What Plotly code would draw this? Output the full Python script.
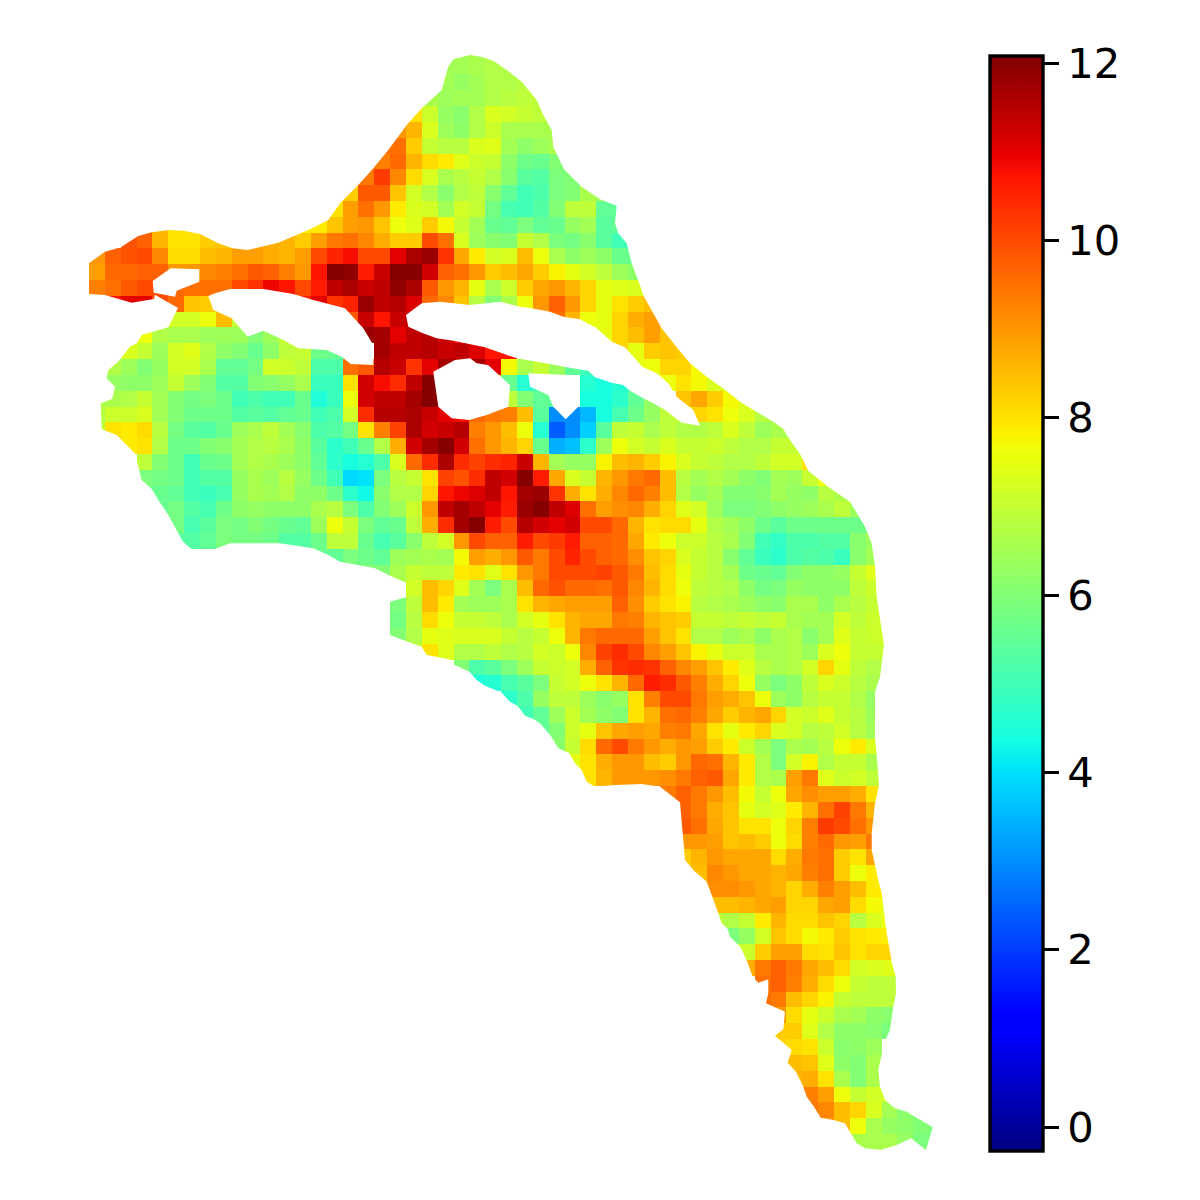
import numpy as np
import plotly.graph_objects as go

_ = None
# ---------- cell values, one list per grid row (first list item sits in column row_starts[i]) ----------
row_starts = [22,22,21,20,20,19,18,17,16,15,14,3,2,0,0,0,1,5,3,2,1,0,0,0,0,1,3,3,3,4,4,5,14,17,19,19,19,19,20,23,24,26,27,28,29,30,30,36,37,37,37,37,37,38,39,39,40,40,41,42,42,43,43,43,43,44,44,45,46,48]
row_values = [
[6.5,6.5,6.6,6.7,6.7],
[6.5,6.5,6.6,6.7,6.7,6.8],
[6.6,6.5,6.3,6.5,6.7,6.7,6.8,6.9],
[7.5,6.6,6.4,6.5,6.5,6.7,6.8,6.9,6.9,6.8,6.8],
[8.0,7.1,6.3,6.1,6.7,7.3,7.2,7.0,6.9,6.8,6.8],
[9.0,8.6,7.3,6.4,6.2,6.7,7.1,6.6,6.6,6.6,6.6,6.7],
[9.5,9.5,8.3,7.0,6.8,6.8,7.3,7.4,6.5,6.2,6.4,6.6,6.8],
[9.3,9.3,9.6,8.6,8.1,7.9,7.4,7.1,7.0,6.2,5.7,5.6,6.0,6.5],
[9.2,9.4,10.2,9.2,8.1,7.3,6.6,6.8,7.0,6.7,6.1,5.4,5.3,5.9,6.0,6.7],
[8.0,8.3,9.8,9.8,8.4,7.2,6.7,6.1,6.7,6.9,6.1,5.5,5.0,5.2,5.9,6.0,6.6,6.5],
[8.0,8.0,8.9,9.5,9.0,7.9,7.3,7.2,6.5,7.2,7.0,5.8,5.1,5.0,5.3,6.0,6.9,6.9,5.5,5.5],
[9.7,8.6,8.0,8.0,8.3,_,_,_,_,_,7.9,7.9,8.4,8.9,9.0,8.4,7.6,7.4,8.3,7.7,7.0,6.5,5.6,5.5,5.9,5.5,5.6,6.3,6.5,5.4,5.5],
[9.9,9.7,8.6,8.0,8.0,8.3,8.4,8.9,8.9,8.7,8.6,8.3,8.9,9.4,9.5,9.2,8.7,8.3,8.3,10.0,9.5,7.3,6.4,6.1,6.0,7.0,6.7,5.9,5.8,6.1,5.4,5.0,5.3],
[9.0,9.7,9.9,10.0,9.2,8.1,8.1,8.5,8.6,8.9,8.9,8.7,8.6,8.9,10.0,10.5,10.8,10.0,10.0,11.0,11.6,11.8,10.3,8.8,7.9,7.2,7.3,8.5,7.6,6.6,6.2,6.4,6.2,5.6,5.6],
[8.9,9.6,9.6,9.7,9.7,9.0,9.0,9.2,9.3,9.5,9.8,9.7,9.3,9.0,10.7,12.0,11.9,10.6,11.3,12.0,12.0,11.2,9.7,9.5,9.0,8.3,8.5,8.8,8.3,7.8,7.5,7.2,6.9,6.4,6.2,6.4],
[9.3,9.5,9.8,10.0,10.0,9.6,9.5,9.5,9.5,10.0,10.3,10.9,10.7,10.0,10.6,11.4,11.6,11.3,11.4,11.9,11.6,9.8,9.0,8.6,7.5,6.6,7.1,8.3,8.8,9.0,8.6,8.2,7.5,7.4,7.3,7.3],
[10.7,11.0,11.0,10.0,9.6,8.4,8.3,8.4,_,_,_,10.7,10.5,11.0,10.3,10.5,11.8,11.4,11.5,11.1,9.6,9.2,8.4,6.8,6.0,6.6,7.6,9.0,9.7,9.0,8.2,7.5,8.0,8.3,8.5],
[7.2,7.2,7.6,8.5,7.0,6.4,_,_,_,_,9.8,9.8,11.3,10.7,11.3,11.3,_,_,_,_,_,_,_,_,9.5,8.6,7.6,7.5,8.2,8.7,8.9,8.9],
[7.6,6.7,6.6,6.6,6.4,6.4,6.4,6.0,6.4,7.0,_,_,_,_,11.8,11.7,11.0,11.4,11.5,11.3,10.8,_,_,_,_,_,_,_,_,7.5,8.2,8.5,8.9,8.4,8.4],
[7.3,7.0,6.4,7.2,7.4,6.7,6.2,6.0,5.6,6.2,6.9,7.0,5.7,5.6,5.1,_,11.7,11.4,11.4,11.5,11.3,11.4,11.1,10.7,10.7,_,_,_,_,_,_,8.2,7.5,8.3,8.4,8.3,8.3],
[6.7,6.4,6.0,6.3,7.2,7.2,6.6,5.5,5.5,5.8,7.2,7.1,6.9,5.2,5.2,9.5,9.8,11.5,11.3,10.3,11.0,11.7,11.5,11.7,11.0,7.7,6.6,7.0,6.4,5.5,5.0,4.5,_,7.5,7.6,8.2,8.2,7.7,7.5],
[6.5,6.3,6.2,6.2,6.4,7.0,6.4,6.0,5.3,5.3,6.0,6.1,6.3,6.6,4.9,4.9,8.0,11.2,10.8,10.4,11.4,12.0,12.0,_,_,8.1,5.6,4.6,5.0,_,_,4.6,4.4,4.6,5.0,_,7.6,8.0,7.7,7.3,7.3],
[6.7,6.6,6.7,7.0,6.5,6.0,5.8,5.9,5.7,5.0,5.2,5.0,5.0,5.6,4.5,4.9,7.6,11.2,11.4,11.4,11.7,12.0,11.9,_,_,_,6.9,6.0,5.5,5.4,_,4.4,4.4,4.7,5.5,6.3,_,8.4,8.8,8.3,7.7,7.3,6.8],
[6.7,7.1,7.1,7.3,6.5,6.0,5.7,5.7,5.7,5.3,5.4,5.3,5.5,5.6,5.0,5.2,7.2,10.4,11.5,11.5,11.6,11.3,11.0,10.8,9.6,9.4,9.3,8.5,5.4,3.0,3.0,3.5,4.4,5.1,5.7,6.3,6.9,7.0,8.2,8.0,7.6,7.3,6.8,6.6],
[6.9,8.0,7.9,8.1,6.8,5.8,5.4,5.3,5.6,6.4,6.6,6.9,6.5,6.1,5.2,5.3,5.8,8.0,9.3,10.1,11.6,11.2,11.3,11.5,9.3,9.0,8.5,7.6,4.6,2.4,3.0,3.8,5.4,6.9,7.0,6.6,6.9,6.7,6.7,6.9,7.3,6.9,6.4,6.6,6.6,6.6],
[7.9,7.9,8.0,6.7,5.7,5.7,6.0,6.1,6.5,6.7,6.8,6.6,6.2,5.4,4.7,5.0,5.6,6.7,8.7,11.2,11.7,12.0,11.2,9.5,9.0,8.6,8.2,5.6,3.4,3.6,4.7,6.4,7.6,7.2,7.0,7.3,7.0,7.0,7.1,6.9,6.7,6.7,7.0,7.0,7.2],
[6.9,6.0,5.7,5.0,5.6,5.7,6.5,6.7,6.6,6.4,6.2,5.5,4.7,4.4,4.6,5.2,7.3,9.6,10.4,11.6,10.4,10.1,10.4,10.5,11.3,8.6,6.5,6.3,6.3,7.8,8.5,8.6,8.3,7.8,7.3,7.0,6.9,6.7,6.7,6.9,7.2,7.2,8.0,8.0],
[5.9,5.8,5.7,5.0,5.3,5.3,6.3,6.6,6.4,6.8,6.3,5.7,5.0,3.9,4.0,5.9,6.8,7.0,8.0,10.1,9.9,10.4,11.4,11.2,12.0,10.6,8.8,7.3,7.0,8.6,9.0,9.4,9.6,8.5,6.8,6.5,6.7,6.5,6.2,6.0,6.5,6.4,7.0,7.6,7.6],
[5.8,5.6,5.5,5.0,4.9,5.1,6.3,6.6,6.5,6.7,6.2,6.2,5.7,4.7,4.3,6.1,6.7,6.7,8.2,10.7,10.9,11.1,11.4,10.7,11.7,11.8,10.3,8.7,8.0,8.7,9.2,9.6,9.3,8.5,6.7,6.3,6.5,6.0,6.0,6.1,6.5,6.3,6.2,6.8,6.6,6.6],
[5.6,5.8,5.3,5.1,5.7,6.2,6.3,6.2,6.2,6.2,6.6,6.8,5.9,5.2,6.0,6.4,7.1,9.0,11.4,11.7,11.4,11.0,10.6,11.8,12.0,11.4,11.1,9.5,8.9,9.1,9.2,8.7,8.2,7.4,7.2,6.4,5.9,5.9,6.0,6.2,6.3,6.4,6.6,6.9,6.4,6.4],
[5.7,5.8,5.1,5.4,5.9,5.8,6.0,5.8,5.6,5.5,6.4,7.6,7.0,5.9,5.5,5.6,6.9,8.7,10.4,11.7,12.0,10.6,10.0,11.5,11.2,11.0,11.2,10.0,10.0,9.6,8.6,8.0,8.1,8.1,7.5,6.7,6.5,6.2,5.7,5.4,5.7,5.7,5.7,5.7,5.7,6.0],
[5.4,5.3,5.5,5.9,5.8,5.8,5.7,5.3,5.3,5.7,6.9,6.9,5.6,5.1,5.4,6.1,6.9,7.2,9.0,10.0,9.7,9.7,10.6,10.0,10.2,10.6,9.7,9.7,9.6,8.8,7.9,7.6,7.1,7.1,6.8,6.6,6.0,5.0,4.8,5.2,5.2,5.3,5.3,6.1,6.4],
[5.6,5.5,5.9,5.7,5.5,6.4,6.5,6.6,6.5,7.7,8.9,8.7,9.0,9.8,9.4,10.0,10.5,10.0,9.7,9.6,9.1,8.4,8.2,7.3,7.0,6.8,6.1,5.5,4.9,4.7,5.2,5.3,5.2,4.9,6.1,6.5,6.5],
[6.0,6.0,6.6,7.0,6.9,6.9,7.9,8.0,7.4,8.0,9.0,9.4,10.0,10.0,10.0,10.1,9.8,9.4,8.5,8.1,7.5,7.0,6.8,6.5,5.7,5.6,5.5,6.0,6.2,6.2,6.3,7.0,7.4],
[6.6,7.2,8.5,8.2,7.4,6.5,5.9,6.6,8.5,9.6,9.9,9.6,9.6,9.5,9.8,9.2,8.6,8.1,7.6,6.9,6.8,6.7,6.2,5.8,5.9,6.3,6.2,6.2,6.2,6.9,7.1],
[5.9,6.9,8.5,7.9,6.5,6.4,6.4,6.6,8.0,8.6,8.8,8.9,8.9,8.9,9.7,9.1,8.3,8.0,7.8,6.8,6.7,6.6,6.4,6.2,6.1,6.6,6.6,6.2,6.6,6.8,7.0,7.0],
[5.8,6.8,8.1,7.6,7.0,7.0,6.9,6.6,7.2,7.5,8.0,8.6,8.8,8.8,9.4,9.3,8.6,8.4,8.3,7.0,7.0,6.9,7.0,6.9,7.0,6.6,6.5,6.5,7.2,6.9,7.1,7.1],
[6.0,6.7,7.5,7.4,7.3,7.3,7.3,7.0,6.8,7.0,7.6,8.6,9.4,9.6,9.6,9.6,8.9,8.4,8.0,6.7,6.7,6.4,6.6,6.2,6.6,6.7,6.1,6.5,7.4,7.0,7.1,7.2],
[7.0,8.0,7.4,6.7,6.7,6.9,6.7,6.8,7.2,7.1,7.6,9.2,10.1,10.4,10.0,9.2,8.9,8.4,7.8,7.5,7.1,7.1,6.6,6.6,6.7,6.4,7.3,7.6,7.0,7.0,7.0],
[6.0,5.2,5.4,5.9,6.4,7.0,7.1,7.2,8.7,9.7,10.3,10.4,10.3,9.7,9.2,8.9,8.4,7.9,7.4,6.8,6.6,6.7,7.2,8.2,7.5,6.9,6.7],
[4.5,4.6,5.1,5.4,5.9,7.0,7.2,7.6,8.0,8.6,9.6,10.6,10.4,9.8,9.3,8.7,8.2,7.6,6.3,5.9,6.2,6.9,7.3,7.1,6.8,6.6],
[4.7,5.2,6.3,6.9,6.9,6.4,6.1,6.3,8.0,9.3,10.0,10.0,9.4,8.9,8.7,8.4,7.6,6.4,6.2,6.8,7.0,7.0,6.7,6.3],
[5.0,5.5,6.4,7.1,6.5,6.2,6.0,8.0,8.6,9.5,9.6,9.3,8.8,8.3,8.6,8.8,8.2,7.2,7.1,7.4,7.0,6.8,6.4],
[5.5,6.0,7.1,7.5,8.4,8.8,8.9,8.8,9.3,9.4,8.8,8.0,7.5,7.9,8.2,7.3,7.2,6.8,6.9,7.2,6.8,6.5],
[6.1,7.0,8.1,9.6,10.0,9.4,9.0,8.7,9.0,8.9,8.3,7.9,7.1,6.5,5.9,6.6,6.5,6.8,7.6,7.9,7.3],
[7.5,8.0,8.7,9.0,9.0,8.5,8.3,9.0,9.6,9.5,8.6,7.9,6.7,5.9,7.2,7.8,6.7,7.0,7.0,6.6],
[7.6,8.0,8.6,9.0,9.0,9.0,9.1,9.4,9.7,9.8,8.8,7.9,6.7,6.6,8.9,9.4,7.4,7.1,7.2,6.9],
[9.4,9.7,9.4,9.0,8.5,7.7,7.0,7.6,8.8,9.1,8.9,8.9,8.7,8.0],
[9.7,9.4,8.7,8.4,7.5,7.2,7.4,7.9,8.6,9.5,10.1,9.4,8.6],
[9.8,9.5,8.8,8.4,8.0,8.0,7.6,8.2,9.3,10.2,10.0,9.5,9.0],
[9.0,9.0,8.9,8.4,8.5,8.3,7.6,8.1,9.3,9.6,9.0,8.9,9.4],
[8.3,8.6,9.0,8.8,8.8,8.8,8.1,8.7,9.4,9.5,8.3,8.0,8.8],
[8.5,8.5,9.2,9.0,8.8,8.8,8.6,8.8,9.3,9.5,8.3,7.6,7.9,7.9],
[8.8,9.1,9.1,9.0,8.8,8.6,8.2,8.7,9.3,8.9,8.5,7.9,7.3],
[8.5,8.5,8.6,8.8,8.9,8.2,8.2,8.8,8.9,8.1,7.7,7.3],
[6.9,6.7,7.0,7.9,8.6,8.1,8.1,8.4,8.2,6.8,7.3,7.6],
[5.9,6.3,7.2,8.4,8.1,7.7,7.9,8.3,8.0,7.9,7.9],
[7.0,7.1,8.3,8.9,8.9,8.1,8.0,8.4,8.0,8.2,8.2],
[8.7,9.4,9.7,9.4,8.8,8.5,8.1,7.2,7.3,7.4],
[9.5,9.7,9.3,8.7,8.1,7.6,7.0,6.9,6.9],
[9.5,9.4,8.5,8.2,7.8,7.0,6.9,6.9,6.9],
[9.0,8.1,7.5,7.1,6.6,6.5,6.2,6.1],
[8.3,8.3,7.4,6.7,6.2,6.2,6.1,5.9],
[8.2,8.1,8.0,7.1,6.1,6.2,6.4],
[8.3,8.5,8.4,7.4,6.2,6.0,6.6],
[8.6,8.7,8.0,6.6,6.0,6.6],
[9.5,9.3,8.9,7.6,7.0,7.2,7.2],
[9.4,9.2,8.5,8.2,7.3,6.5,6.1,6.0],
[9.0,8.5,7.6,6.6,6.3,6.2,6.0,5.9],
[6.6,6.6,6.6,6.3,5.9,5.9],
]
colorbar_ticks = [0, 2, 4, 6, 8, 10, 12]

# ---------- island outline and its holes, in the same units as the axes ----------
outer_x = [470,483.3,495,506.7,521.7,530,536.7,543.3,551.7,553.3,564,581.7,600,616.7,615,618.3,626.7,631.7,638,644,661.7,676.7,690,706.7,723,740,753.3,771.7,782.7,790,800,808.3,830,850,865,871.7,875,876.7,884,880,875,875,876.7,879,875,871.7,871.7,878.3,881.7,886.7,891.7,895.7,896,893.3,890,884.3,878.3,880,885,895,906.7,915,932.7,926,911,896.7,880.7,865,856.7,845,833.3,820.7,814,806.7,803.3,796,787.7,791.7,775,783.3,785,766,768.3,768.3,758.3,752.7,747.3,740.7,730,727.3,721.7,718.3,711.7,706.7,693.3,685,682.7,680,660,641.7,615,595,586.7,581.7,575,569.3,558.3,550.7,540,533.3,525,517.7,510,501.7,485,476.7,469.3,453.3,449.3,426.7,421.7,405,390,390,406,406,390,375,340,328.3,313,280,230,215,191.7,183,168.3,158.3,151.7,141.7,135,116.7,101.7,100.7,112.3,115,106.7,108.3,118.3,130,136.7,141.7,168.3,178,155,154,131.7,105,89,89,105,120.7,138.3,151.7,168.3,183.3,200,218.3,232.7,247.7,278.3,310,328.3,340,358.3,373.3,388.3,406.7,421.7,441.7,445,448.3,453.3]
outer_y = [55,57.3,61.7,70,81.7,91.7,100,115,130,146.7,169.3,186.7,199.3,205.7,223.3,233.3,243.3,263.3,280,296.7,328.3,347.3,363.3,376.7,388.3,401.7,410,420.7,428.3,440,454,470.7,488.3,501.7,526.7,543.3,566.7,596.7,645,676.7,691.7,738.3,755,785,803.3,833.3,850,880,893.3,933.3,961.7,976.7,993.3,1006.7,1030,1042.3,1070,1086.7,1100,1108.3,1111.7,1116.7,1127.3,1150,1138.3,1145,1150,1148.3,1143.3,1123.3,1120,1117.7,1106.7,1096.7,1086.7,1071.7,1062.7,1050,1035.7,1029.3,1011.7,1003.3,993.3,979.3,982.7,976.7,961.7,947.3,936.7,928.3,923.3,913.3,895,881.7,870,860,833.3,802.3,786.7,784,785,786.7,781.7,770,763.3,753.3,748.3,735.7,723.3,719,715.7,706,701.7,692.7,685.7,680,671.7,664.3,659.3,655,646.7,640.7,635,601.7,597.3,582.7,575.7,568.3,561.7,555,548.3,543.3,543.3,549,549.3,541.7,515,500,489,480,453.3,435,429.3,403.3,399,386.7,378.3,370,361.7,346.7,343.3,335,327.3,308,294.7,299,302.7,295,294,263.3,251.7,247.3,236,232.3,230,230.7,234,243.3,248.3,250,242.7,229.3,220,203.3,185,168.3,150,125,108.3,90,78.3,66.7,59.3]
hole_a_x = [152.7,170.7,199.3,199.3,176.7,175,153.7]
hole_a_y = [281,268.3,269.3,281.7,290.7,296.7,292.7]
hole_b_x = [208.3,213.3,231.7,247.7,263.3,276.7,283.3,298.3,326.7,341.7,350.7,373.3,373.3,363.3,345,313.3,293.3,263.3,230,215]
hole_b_y = [296,310,318.3,336.7,330.7,336.7,340,348.3,350,356.7,364,365,345,328.3,308.3,300,294,289,289,293.3]
hole_c_x = [406,421.7,440,470,500,520,531.7,550,563.3,580,596.7,611.7,625,642.3,656.7,668.3,676.7,693.3,700,681.7,665,653.3,643.3,630,623.3,611.7,595,588.3,566.7,550,516.7,500.7,485,453.3,436.7,421.7,408.3]
hole_c_y = [315,303.3,301.7,305,301.7,306.7,308.3,311.7,316.7,319.3,328.3,341.7,347.3,366.7,373.3,383.3,396.7,410,425.7,422.7,410,403.3,398.3,390.7,385,382.7,377.3,370.7,367.3,364,358.3,352.7,347.3,340.7,338.3,332.7,326.7]
hole_d_x = [433.3,455,470,476.7,488,510,508.3,486.7,469.3,451.7,438.3]
hole_d_y = [371.7,360,358.3,363.3,365,385,406.7,415,420,418.3,406.7]
hole_e_x = [528.3,566.7,568.3,578.3,578.3,565.7,553.3,548.3,530]
hole_e_y = [373.3,375,378.3,386.7,406.7,419.3,406.7,395,386.7]

# ---------- build ----------
N_COLS, N_ROWS = 54, 70
z = [[None] * N_COLS for _i in range(N_ROWS)]
for r, (start, vals) in enumerate(zip(row_starts, row_values)):
    for c, v in enumerate(vals):
        z[r][start + c] = v

knots = [0, .11, .125, .34, .35, .375, .64, .65, .66, .89, .91, 1]
red = np.interp(knots, [0, .35, .66, .89, 1], [0, 0, 1, 1, .5])
grn = np.interp(knots, [0, .125, .375, .64, .91, 1], [0, 0, 1, 1, 0, 0])
blu = np.interp(knots, [0, .11, .34, .65, 1], [.5, 1, 1, 0, 0])
jet = [[k, f"rgb({r*255:.0f},{g*255:.0f},{b*255:.0f})"] for k, r, g, b in zip(knots, red, grn, blu)]


def ring(xs, ys):
    return "M" + "L".join(f"{x},{y}" for x, y in zip(xs, ys)) + "Z"


mask = "M80,35L950,35L950,1160L80,1160Z" + "".join(
    ring(a, b) for a, b in [(outer_x, outer_y), (hole_a_x, hole_a_y), (hole_b_x, hole_b_y),
                            (hole_c_x, hole_c_y), (hole_d_x, hole_d_y), (hole_e_x, hole_e_y)])

fig = go.Figure(go.Heatmap(
    z=z, x0=89 + 15.853 / 2, dx=15.853, y0=42.8 + 15.82 / 2, dy=15.82,
    zmin=-0.27, zmax=12.08, colorscale=jet, hoverongaps=False,
    colorbar=dict(
        x=989.5 / 1200, xanchor="left", xpad=0, ypad=0,
        y=1 - 603.5 / 1200, yanchor="middle", len=1095, lenmode="pixels",
        thickness=52.5, thicknessmode="pixels",
        outlinecolor="black", outlinewidth=3.4, borderwidth=0,
        tickmode="array", tickvals=colorbar_ticks, ticks="outside",
        ticklen=14.6, tickwidth=3.3, tickcolor="black",
        tickfont=dict(family="DejaVu Sans", size=41.67, color="black"),
    ),
))
fig.update_layout(
    width=1200, height=1200, margin=dict(l=0, r=0, t=0, b=0),
    paper_bgcolor="white", plot_bgcolor="white",
    xaxis=dict(range=[0, 1200], visible=False),
    yaxis=dict(range=[1200, 0], visible=False),
    shapes=[dict(type="path", path=mask, xref="x", yref="y", fillcolor="white",
                 line=dict(width=0), layer="above", fillrule="evenodd")],
)
fig.write_html("out.html", config={"displayModeBar": False},
               post_script="document.body.style.margin='0';"
                           "document.querySelectorAll('.infolayer .ytick').forEach("
                           "function(g){g.setAttribute('transform','translate(5,0)');});")
